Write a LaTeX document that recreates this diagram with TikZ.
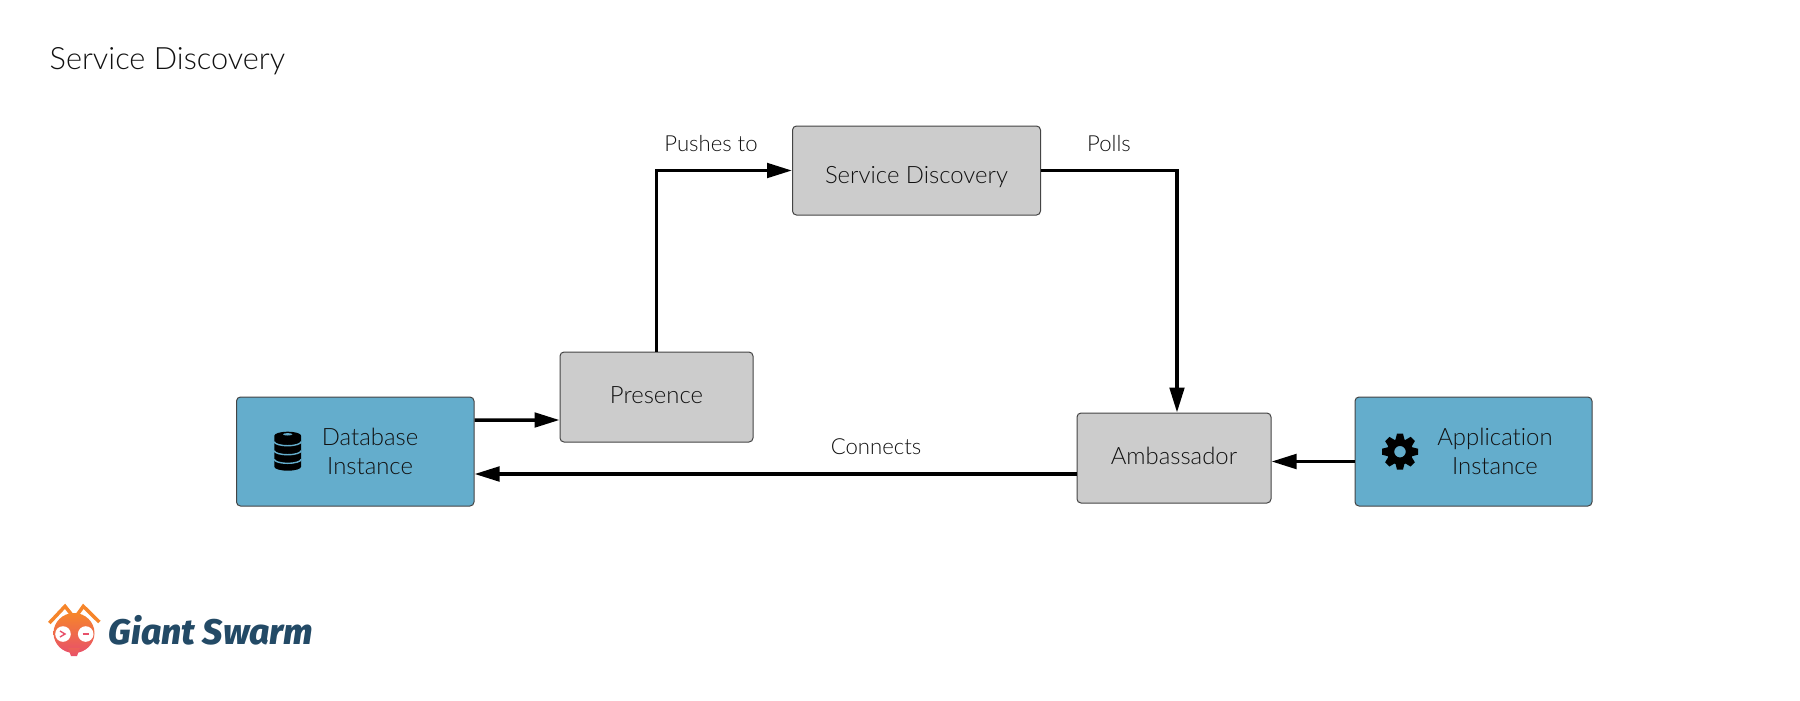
\documentclass[tikz,border=0pt]{standalone}
\usepackage{fontspec}
\setmainfont{Lato}[UprightFont=* Light, Ligatures=NoCommon]
\newfontfamily\logofont{Fira Sans}[BoldItalicFont={Fira Sans ExtraBold Italic}]
\usepackage{xcolor}
\usepackage{tikz}
\usetikzlibrary{calc, positioning, arrows.meta}

\definecolor{boxgray}{HTML}{CCCCCC}
\definecolor{boxblue}{HTML}{64ADCC}
\definecolor{boxline}{HTML}{444444}
\definecolor{logoblue}{HTML}{234A66}
\definecolor{antorange}{HTML}{F6852A}
\definecolor{antpink}{HTML}{E8516A}
\definecolor{textdark}{HTML}{111111}

\tikzset{
    graybox/.style={draw=boxline, line width=0.01cm, fill=boxgray, rounded corners=0.04cm, inner sep=0, text=textdark, text height=0.16cm, text depth=0.04cm, font=\fontsize{6.8pt}{8.2pt}\selectfont},
    bluebox/.style={draw=boxline, line width=0.01cm, fill=boxblue, rounded corners=0.04cm, inner sep=0},
    boxtext/.style={align=center, inner sep=0, text=textdark, font=\fontsize{6.8pt}{8.2pt}\selectfont},
    edgetext/.style={inner sep=0, text=textdark, font=\fontsize{6.3pt}{7pt}\selectfont},
    flow/.style={line width=0.035cm, -{Triangle[length=0.25cm, width=0.145cm]}}
}

\begin{document}
\begin{tikzpicture}[>=latex]
    \useasboundingbox (0,0) rectangle (18,7);

    % 1. Tiêu đề
    \node[anchor=west, inner sep=0, text=textdark, font=\fontsize{8.75pt}{11pt}\selectfont] (title) at (0.49,6.385) {Service Discovery};

    % 2. Các khối
    \node[bluebox, minimum width=2.375cm, minimum height=1.09cm] (db) at (3.5525,2.485) {};
    \node[graybox, minimum width=1.93cm, minimum height=0.90cm] (presence) at (6.565,3.03) {Presence};
    \node[graybox, minimum width=2.48cm, minimum height=0.89cm] (discovery) at (9.165,5.295) {\raisebox{-0.07cm}{Service Discovery}};
    \node[graybox, minimum width=1.94cm, minimum height=0.90cm] (ambassador) at (11.74,2.42) {Ambassador};
    \node[bluebox, minimum width=2.37cm, minimum height=1.09cm] (app) at (14.735,2.485) {};
    \node[boxtext] (dbtext) at ([xshift=0.148cm]db.center) {Database\\Instance};
    \node[boxtext] (apptext) at ([xshift=0.215cm]app.center) {Application\\Instance};

    % 3. Các mũi tên
    \draw[flow] ([yshift=0.315cm]db.east) -- ([yshift=-0.23cm]presence.west);
    \draw[flow] (presence.north) |- (discovery.west);
    \draw[flow] (discovery.east) -| ([xshift=0.03cm]ambassador.north);
    \draw[flow] ([yshift=-0.16cm]ambassador.west) -- ([yshift=-0.225cm]db.east);
    \draw[flow] ([yshift=-0.10cm]app.west) -- ([yshift=-0.035cm]ambassador.east);

    \node[edgetext] (pushes) at (7.11,5.565) {Pushes to};
    \node[edgetext] (polls) at (11.09,5.565) {Polls};
    \node[edgetext] (connects) at (8.76,2.53) {Connects};

    % 4. Biểu tượng cơ sở dữ liệu
    \fill (2.743,2.333) arc[start angle=180, end angle=360, x radius=0.134, y radius=0.04]
        -- (3.011,2.643) arc[start angle=0, end angle=180, x radius=0.134, y radius=0.04] -- cycle;
    \foreach \y in {2.583,2.493,2.407} {
        \draw[boxblue, line width=0.014cm] (2.743,\y) arc[start angle=180, end angle=360, x radius=0.134, y radius=0.04];
    }
    \fill[boxblue] (2.877,2.657) ellipse (0.047 and 0.012);

    % 5. Biểu tượng bánh răng
    \fill[even odd rule] (14,2.483) circle (0.058) (14,2.483) circle (0.13);
    \foreach \a in {0,45,...,315} {
        \fill[rotate around={\a:(14,2.483)}] (13.95,2.583) -- (13.97,2.663) -- (14.03,2.663) -- (14.05,2.583) -- cycle;
    }

    % 6. Logo
    \draw[antorange, line width=0.035cm] (0.493,0.77) -- (0.65,0.937) -- (0.717,0.853);
    \draw[antorange, line width=0.035cm] (0.993,0.78) -- (0.833,0.937) -- (0.773,0.853);
    \shade[top color=antorange, bottom color=antpink] (0.74,0.67) ellipse (0.205 and 0.20);
    \shade[top color=antpink!70!antorange, bottom color=antpink] (0.68,0.52) -- (0.80,0.52) -- (0.77,0.44) -- (0.71,0.44) -- cycle;
    \fill[white] (0.63,0.66) circle (0.078) (0.857,0.66) circle (0.078);
    \draw[antpink, line width=0.014cm] (0.60,0.69) -- (0.65,0.66) -- (0.60,0.63);
    \draw[antpink, line width=0.014cm] (0.825,0.66) -- (0.89,0.66);
    \node[anchor=west, inner sep=0, text=logoblue, font=\logofont\bfseries\itshape\fontsize{10.1pt}{11pt}\selectfont] (logo) at (1.08,0.695) {Giant Swarm};
\end{tikzpicture}
\end{document}
